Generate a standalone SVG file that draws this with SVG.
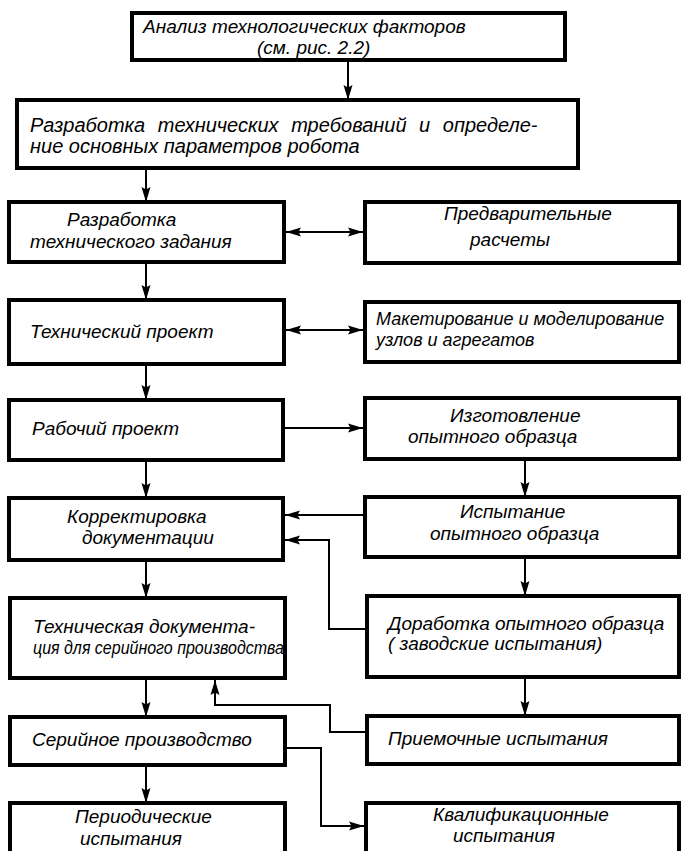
<svg xmlns="http://www.w3.org/2000/svg" width="683" height="851" viewBox="0 0 683 851">
<style>
.box{fill:#fff;stroke:#000;stroke-width:4}
.t{font-family:"Liberation Sans","DejaVu Sans",sans-serif;font-style:italic;font-size:19px;fill:#000}
.c{fill:none;stroke:#000;stroke-width:2}
</style>
<defs>
<marker id="ah" markerUnits="userSpaceOnUse" markerWidth="16" markerHeight="10" refX="15" refY="5" orient="auto-start-reverse">
<path d="M0,0.5 L15,5 L0,9.5 L2.5,5 z" fill="#000"/>
</marker>
</defs>
<rect width="683" height="851" fill="#fff"/>

<g id="connectors">
<line class="c" x1="348" y1="60" x2="348" y2="100" marker-end="url(#ah)"/>
<line class="c" x1="146" y1="168" x2="146" y2="202" marker-end="url(#ah)"/>
<line class="c" x1="286" y1="232" x2="363" y2="232" marker-start="url(#ah)" marker-end="url(#ah)"/>
<line class="c" x1="146" y1="262" x2="146" y2="300" marker-end="url(#ah)"/>
<line class="c" x1="286" y1="330" x2="363" y2="330" marker-start="url(#ah)" marker-end="url(#ah)"/>
<line class="c" x1="146" y1="364" x2="146" y2="400" marker-end="url(#ah)"/>
<line class="c" x1="285" y1="428" x2="363" y2="428" marker-end="url(#ah)"/>
<line class="c" x1="146" y1="460" x2="146" y2="498" marker-end="url(#ah)"/>
<line class="c" x1="525" y1="459" x2="525" y2="497" marker-end="url(#ah)"/>
<line class="c" x1="365" y1="515" x2="285" y2="515" marker-end="url(#ah)"/>
<polyline class="c" points="365,629 329,629 329,540 285,540" marker-end="url(#ah)"/>
<line class="c" x1="146" y1="560" x2="146" y2="598" marker-end="url(#ah)"/>
<line class="c" x1="525" y1="557" x2="525" y2="596" marker-end="url(#ah)"/>
<line class="c" x1="525" y1="677" x2="525" y2="716" marker-end="url(#ah)"/>
<polyline class="c" points="365,732 330,732 330,705 215,705 215,680" marker-end="url(#ah)"/>
<line class="c" x1="146" y1="678" x2="146" y2="717" marker-end="url(#ah)"/>
<polyline class="c" points="285,748 321,748 321,826 364,826" marker-end="url(#ah)"/>
<line class="c" x1="146" y1="765" x2="146" y2="803" marker-end="url(#ah)"/>
</g>

<g id="n-analiz"><rect class="box" x="132" y="13" width="433" height="47"/>
<text class="t" x="143" y="33">Анализ  технологических  факторов</text>
<text class="t" x="257" y="54">(см. рис. 2.2)</text></g>

<g id="n-trebovaniya"><rect class="box" x="17" y="100" width="561" height="68"/>
<text class="t" x="30" y="132" style="font-size:20px;word-spacing:7px">Разработка  технических  требований  и  определе-</text>
<text class="t" x="30" y="153" style="font-size:20px">ние  основных  параметров  робота</text></g>

<g id="n-tz"><rect class="box" x="9" y="202" width="275" height="60"/>
<text class="t" x="67" y="226">Разработка</text>
<text class="t" x="30" y="248">технического задания</text></g>

<g id="n-raschety"><rect class="box" x="365" y="202" width="314" height="61"/>
<text class="t" x="444" y="220">Предварительные</text>
<text class="t" x="470" y="246">расчеты</text></g>

<g id="n-tehproekt"><rect class="box" x="9" y="300" width="275" height="64"/>
<text class="t" x="30" y="338">Технический  проект</text></g>

<g id="n-maket"><rect class="box" x="365" y="302" width="314" height="60"/>
<text class="t" x="376" y="325" style="font-size:18px">Макетирование и моделирование</text>
<text class="t" x="376" y="346" style="font-size:18px">узлов и агрегатов</text></g>

<g id="n-rabproekt"><rect class="box" x="9" y="400" width="274" height="60"/>
<text class="t" x="32" y="435">Рабочий  проект</text></g>

<g id="n-izgotovlenie"><rect class="box" x="365" y="398" width="314" height="61"/>
<text class="t" x="450" y="422">Изготовление</text>
<text class="t" x="408" y="443">опытного  образца</text></g>

<g id="n-korrektirovka"><rect class="box" x="9" y="498" width="274" height="62"/>
<text class="t" x="67" y="523">Корректировка</text>
<text class="t" x="82" y="544">документации</text></g>

<g id="n-ispytanie"><rect class="box" x="365" y="497" width="314" height="60"/>
<text class="t" x="460" y="518">Испытание</text>
<text class="t" x="430" y="540">опытного  образца</text></g>

<g id="n-tehdok"><rect class="box" x="10" y="598" width="275" height="80"/>
<text class="t" x="33" y="633">Техническая  документа-</text>
<text class="t" x="33" y="654" textLength="251" lengthAdjust="spacingAndGlyphs">ция для серийного производства</text></g>

<g id="n-dorabotka"><rect class="box" x="367" y="596" width="312" height="81"/>
<text class="t" x="388" y="630">Доработка  опытного образца</text>
<text class="t" x="388" y="650">( заводские  испытания)</text></g>

<g id="n-seriynoe"><rect class="box" x="10" y="717" width="275" height="48"/>
<text class="t" x="32" y="746">Серийное  производство</text></g>

<g id="n-priemochnye"><rect class="box" x="367" y="716" width="312" height="48"/>
<text class="t" x="388" y="745">Приемочные   испытания</text></g>

<g id="n-periodicheskie"><rect class="box" x="10" y="803" width="275" height="60"/>
<text class="t" x="75" y="823">Периодические</text>
<text class="t" x="80" y="845">испытания</text></g>

<g id="n-kvalif"><rect class="box" x="366" y="803" width="313" height="60"/>
<text class="t" x="433" y="821">Квалификационные</text>
<text class="t" x="453" y="842">испытания</text></g>
</svg>
